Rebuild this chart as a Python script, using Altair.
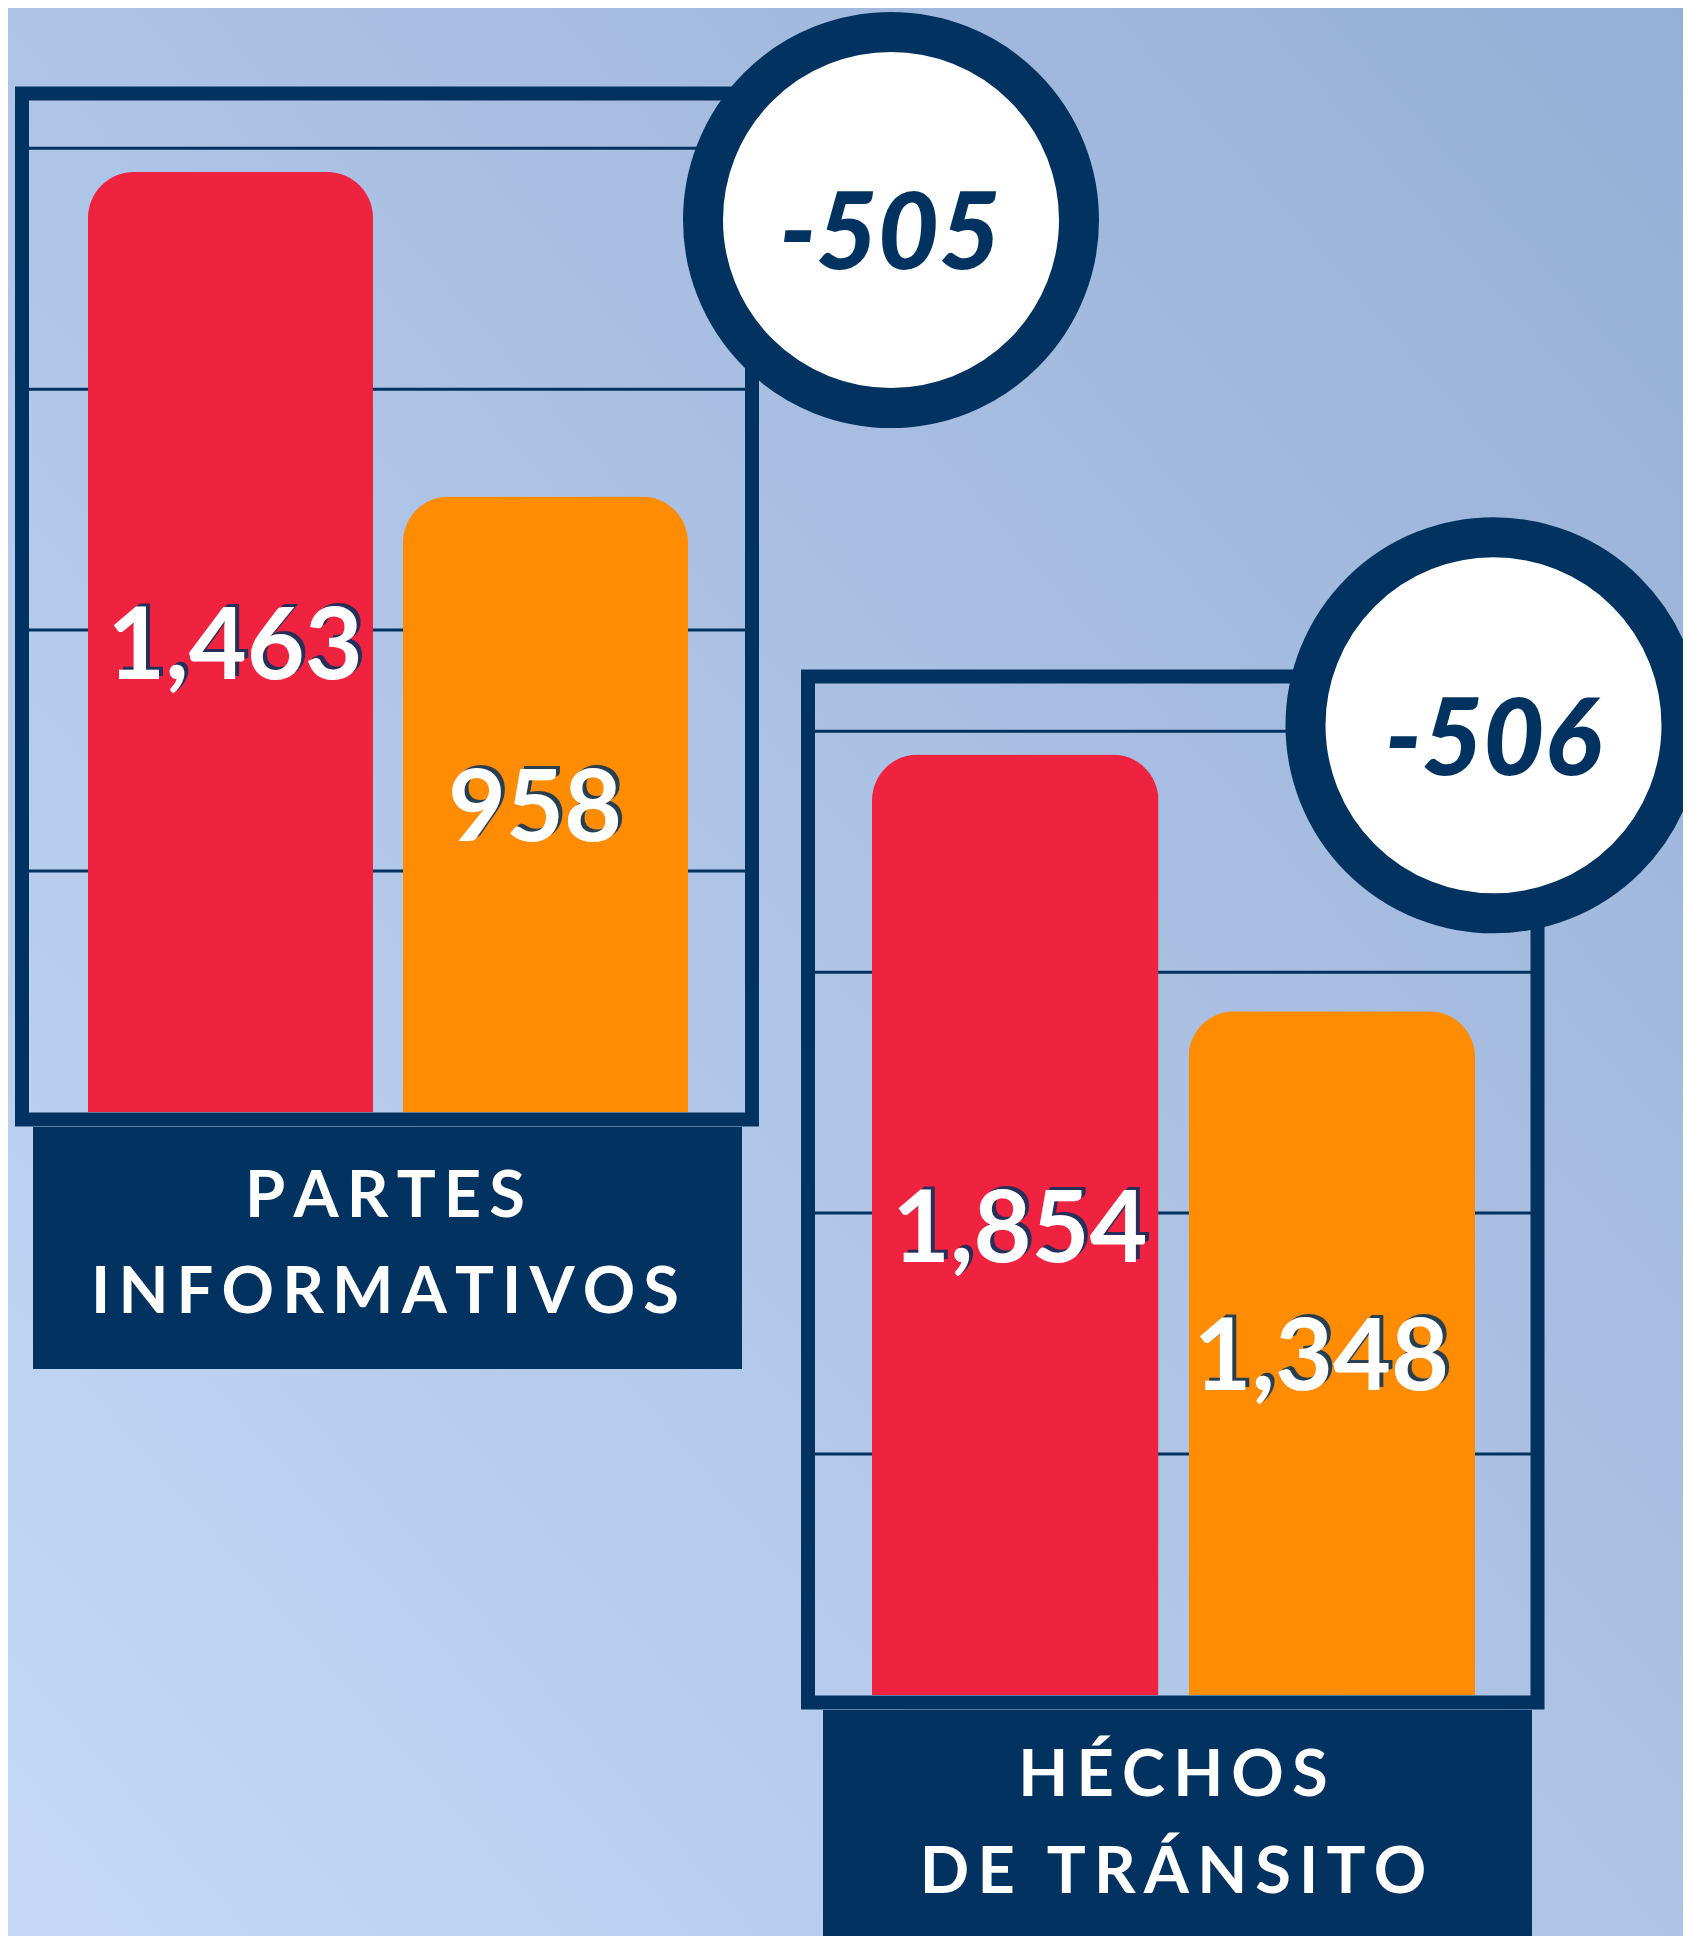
import altair as alt
import pandas as pd

# ---------------- data ----------------
periods = ["Periodo anterior", "Periodo actual"]
bar_colors = ["#EF2240", "#FF8C02"]

panel_titles = [["PARTES", "INFORMATIVOS"], ["HÉCHOS", "DE TRÁNSITO"]]
values_partes = [1463, 958]
values_hechos = [1854, 1348]
grid_partes = [375, 750, 1125, 1500]
grid_hechos = [475, 950, 1425, 1900]
ymax_partes = 1575
ymax_hechos = 1995

NAVY = "#02325F"
FONT = "Lato"
W, H = 1675, 1928
TS = "\u2009"  # thin space used as letter spacing


def spaced(s):
    return TS.join(list(s))


def one():
    return alt.Data(values=[{"k": 0}])


def panel(values, grid, ymax, titles, g):
    df = pd.DataFrame({"cat": periods, "v": values})
    ysc = alt.Scale(domain=[0, ymax], range=[g["base"], g["top"]], nice=False, zero=True)
    xsc = alt.Scale(domain=periods, range=[g["bx0"], g["bx1"]], paddingInner=0.095, paddingOuter=0)
    layers = []
    # frame
    layers.append(
        alt.Chart(one()).mark_rect(fillOpacity=0, stroke=NAVY, strokeWidth=14).encode(
            x=alt.value(g["fx0"]), x2=alt.value(g["fx1"]),
            y=alt.value(g["fy0"]), y2=alt.value(g["fy1"]))
    )
    # grid lines
    layers.append(
        alt.Chart(pd.DataFrame({"g": grid})).mark_rule(color=NAVY, strokeWidth=3).encode(
            y=alt.Y("g:Q", scale=ysc, axis=None),
            x=alt.value(g["gx0"]), x2=alt.value(g["gx1"]))
    )
    # bars
    layers.append(
        alt.Chart(df).mark_bar(cornerRadiusTopLeft=46, cornerRadiusTopRight=46).encode(
            x=alt.X("cat:N", scale=xsc, axis=None, sort=periods),
            y=alt.Y("v:Q", scale=ysc, axis=None),
            color=alt.Color("cat:N", scale=alt.Scale(domain=periods, range=bar_colors), legend=None))
    )
    # value labels (shadow + text)
    base = alt.Chart(df).transform_calculate(mid="datum.v / 2")
    enc = dict(
        x=alt.X("cat:N", scale=xsc, axis=None, sort=periods),
        y=alt.Y("mid:Q", scale=ysc, axis=None),
        text=alt.Text("v:Q", format=","),
    )
    layers.append(
        base.mark_text(font=FONT, fontSize=100, fontWeight="bold", color=NAVY,
                       baseline="middle", align="center", dx=1, dy=4, opacity=0.85).encode(**enc)
    )
    layers.append(
        base.mark_text(font=FONT, fontSize=100, fontWeight="bold", color="white",
                       baseline="middle", align="center", dx=-3, dy=7).encode(**enc)
    )
    # label box
    layers.append(
        alt.Chart(one()).mark_rect(fill=NAVY).encode(
            x=alt.value(g["lx0"]), x2=alt.value(g["lx1"]),
            y=alt.value(g["ly0"]), y2=alt.value(g["ly1"]))
    )
    for t, yb in zip(titles, g["tys"]):
        layers.append(
            alt.Chart(alt.Data(values=[{"t": spaced(t)}])).mark_text(
                font=FONT, fontSize=65, fontWeight="bold", color="white",
                align="center", baseline="alphabetic").encode(
                text="t:N", x=alt.value(g["tx"]), y=alt.value(yb))
        )
    # difference bubble
    diff = values[1] - values[0]
    layers.append(
        alt.Chart(one()).mark_circle(size=376 * 376, fill="white", stroke=NAVY, strokeWidth=40,
                                     opacity=1, fillOpacity=1, strokeOpacity=1).encode(
            x=alt.value(g["cx"]), y=alt.value(g["cy"]))
    )
    layers.append(
        alt.Chart(alt.Data(values=[{"d": f"{diff}"}])).mark_text(
            font=FONT, fontSize=106, fontWeight=900, fontStyle="italic", color=NAVY,
            align="center", baseline="alphabetic").encode(
            text="d:N", x=alt.value(g["dx"]), y=alt.value(g["dy"]))
    )
    return layers


g1 = dict(base=1104, top=92, bx0=80, bx1=680,
          fx0=14, fx1=744, fy0=85.5, fy1=1111.5,
          gx0=21, gx1=737,
          lx0=25, lx1=734, ly0=1119, ly1=1361,
          tx=377, tys=[1209, 1305],
          cx=883, cy=212, dx=882, dy=261)
g2 = dict(base=1687, top=675, bx0=864, bx1=1467,
          fx0=800, fx1=1529.5, fy0=668.5, fy1=1694.5,
          gx0=807, gx1=1523,
          lx0=815, lx1=1524, ly0=1702, ly1=1940,
          tx=1165, tys=[1788, 1885],
          cx=1485.5, cy=717.3, dx=1485, dy=767)

background = alt.Chart(one()).mark_rect(
    fill=alt.LinearGradient(
        gradient="linear",
        stops=[alt.GradientStop(offset=0, color="#C5D9F7"),
               alt.GradientStop(offset=1, color="#96AFD6")],
        x1=0, y1=1, x2=1, y2=0)
).encode(x=alt.value(0), x2=alt.value(W), y=alt.value(0), y2=alt.value(H))

layers = [background]
layers += panel(values_partes, grid_partes, ymax_partes, panel_titles[0], g1)
layers += panel(values_hechos, grid_hechos, ymax_hechos, panel_titles[1], g2)

chart = alt.layer(*layers).resolve_scale(
    x="independent", y="independent", color="independent"
).properties(
    width=W, height=H,
    autosize=alt.AutoSizeParams(type="none"),
    padding=0,
    background="#B0C5E8",
).configure_view(stroke=None)

chart.save("out.html", embed_options={"renderer": "svg", "actions": False})
